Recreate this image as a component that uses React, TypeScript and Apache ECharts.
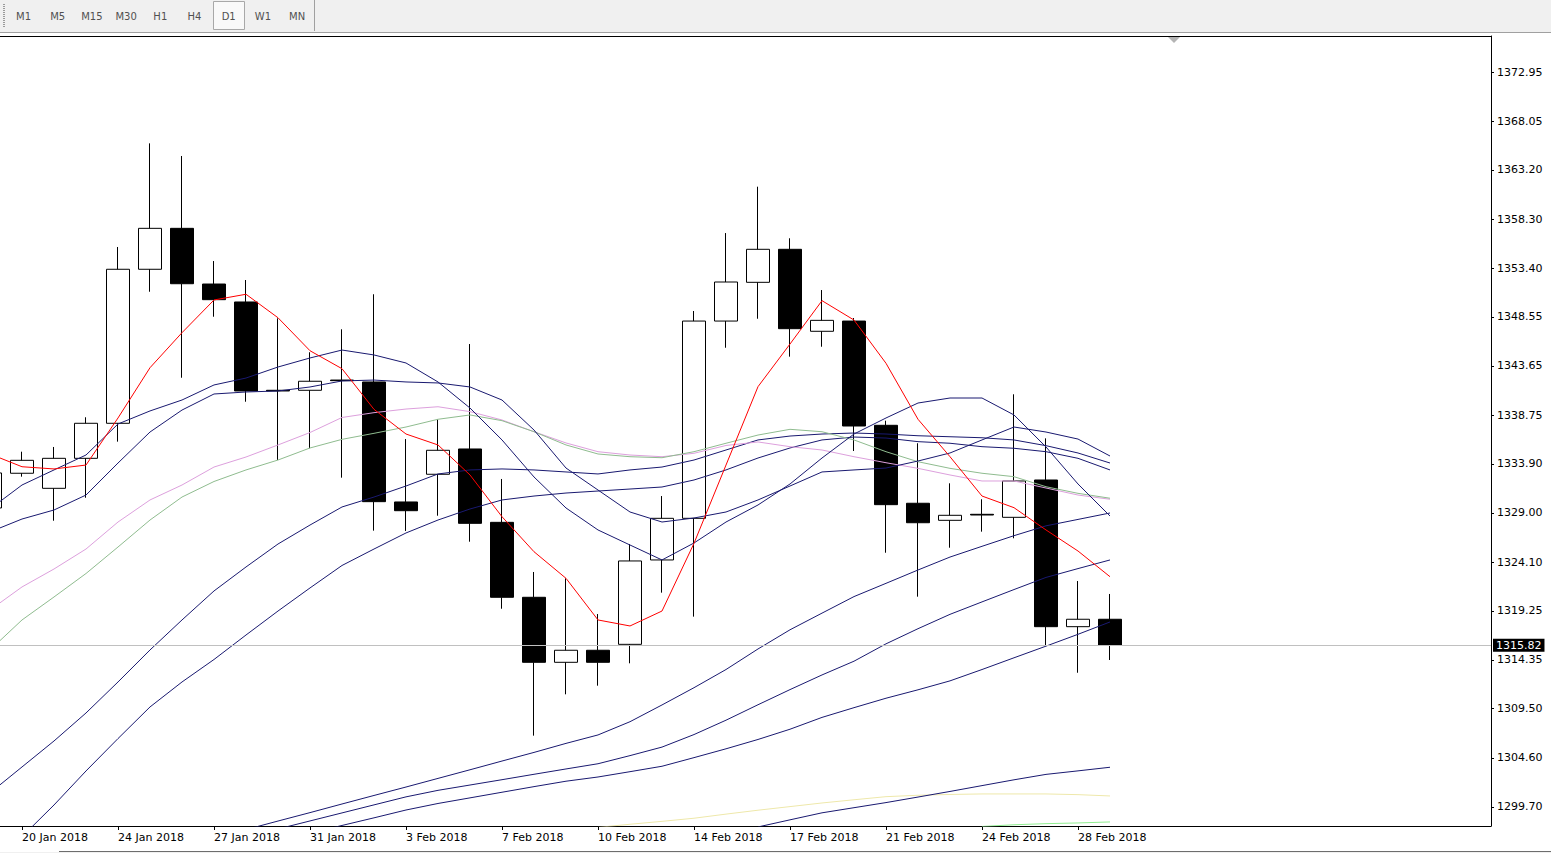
import React, { useEffect, useRef } from "react";
import * as echarts from "echarts";

// ---------- toolbar ----------
const timeframes = ["M1", "M5", "M15", "M30", "H1", "H4", "D1", "W1", "MN"];
const activeTimeframe = "D1";

// ---------- axes ----------
const dateTickIndex = [1, 4, 7, 10, 13, 16, 19, 22, 25, 28, 31, 34];
const dateLabels = [
  "20 Jan 2018", "24 Jan 2018", "27 Jan 2018", "31 Jan 2018", "3 Feb 2018", "7 Feb 2018",
  "10 Feb 2018", "14 Feb 2018", "17 Feb 2018", "21 Feb 2018", "24 Feb 2018", "28 Feb 2018",
];
const priceLabels = [
  "1372.95", "1368.05", "1363.20", "1358.30", "1353.40", "1348.55", "1343.65", "1338.75",
  "1333.90", "1329.00", "1324.10", "1319.25", "1314.35", "1309.50", "1304.60", "1299.70",
];
const bidPrice = 1315.82;

// ---------- candles (index 0 is the partly hidden one at the left edge) ----------
const opens = [1329.50, 1332.96, 1331.46, 1334.45, 1337.94, 1353.29, 1357.37, 1351.82, 1350.03, 1341.23, 1341.23, 1342.25, 1342.06, 1330.10, 1332.86, 1335.38, 1328.07, 1320.60, 1314.12, 1315.32, 1315.91, 1324.32, 1328.47, 1348.13, 1351.99, 1355.28, 1347.11, 1348.13, 1337.74, 1329.97, 1328.27, 1328.87, 1328.57, 1332.29, 1317.67, 1318.41];
const closes = [1332.99, 1334.25, 1334.45, 1337.94, 1353.29, 1357.37, 1351.85, 1350.26, 1341.16, 1341.16, 1342.13, 1342.19, 1330.13, 1329.23, 1335.25, 1327.97, 1320.60, 1314.12, 1315.32, 1314.12, 1324.22, 1328.47, 1348.13, 1352.02, 1355.28, 1347.37, 1348.20, 1337.67, 1329.83, 1328.03, 1328.77, 1328.80, 1332.19, 1317.67, 1318.41, 1315.82];
const lows = [1328.80, 1332.62, 1328.23, 1330.52, 1336.11, 1351.05, 1342.48, 1348.56, 1340.09, 1334.28, 1335.45, 1332.52, 1327.24, 1327.21, 1328.73, 1326.14, 1319.46, 1306.81, 1310.93, 1311.79, 1314.02, 1321.06, 1318.67, 1345.47, 1348.36, 1344.58, 1345.57, 1335.18, 1325.04, 1320.66, 1325.54, 1327.14, 1326.48, 1315.75, 1313.08, 1314.35];
const highs = [1333.78, 1335.11, 1335.58, 1338.54, 1355.51, 1365.84, 1364.58, 1354.11, 1352.22, 1348.40, 1345.02, 1347.31, 1350.80, 1336.37, 1338.34, 1345.84, 1332.39, 1323.12, 1322.49, 1318.93, 1325.91, 1330.69, 1349.13, 1356.90, 1361.52, 1356.38, 1351.22, 1348.43, 1338.20, 1335.95, 1331.96, 1330.37, 1340.83, 1336.44, 1322.22, 1320.93];

// ---------- moving averages (null = below the visible range) ----------
const _ = null;
const maRed = [1334.88, 1333.61, 1333.39, 1333.78, 1338.47, 1343.48, 1346.97, 1350.23, 1350.80, 1348.46, 1345.17, 1343.38, 1339.33, 1336.87, 1335.78, 1332.79, 1328.63, 1325.14, 1322.49, 1318.34, 1317.74, 1319.23, 1325.98, 1333.78, 1341.59, 1345.84, 1350.16, 1348.23, 1343.92, 1338.34, 1334.61, 1330.69, 1329.53, 1327.31, 1325.21, 1322.65];
const maNavyFast = [1329.40, 1331.79, 1333.29, 1334.78, 1337.87, 1339.17, 1340.26, 1341.76, 1342.45, 1343.55, 1344.45, 1345.24, 1344.75, 1343.95, 1342.06, 1339.46, 1336.28, 1332.59, 1329.50, 1327.31, 1325.81, 1324.32, 1326.01, 1328.10, 1329.80, 1331.89, 1334.48, 1336.87, 1338.47, 1339.96, 1340.46, 1340.46, 1338.77, 1335.58, 1331.89, 1328.70];
const maNavySlow = [1327.11, 1328.40, 1329.30, 1330.79, 1333.98, 1337.07, 1339.26, 1340.86, 1341.06, 1341.16, 1341.56, 1342.16, 1342.25, 1342.06, 1341.96, 1341.56, 1340.26, 1337.27, 1333.48, 1331.29, 1329.10, 1328.10, 1328.50, 1329.10, 1330.30, 1331.69, 1333.09, 1333.29, 1333.48, 1334.18, 1334.98, 1336.28, 1337.57, 1337.07, 1336.37, 1334.68];
const maNavyA = [1301.10, 1303.69, 1306.28, 1309.07, 1312.16, 1315.35, 1318.34, 1321.23, 1323.62, 1325.91, 1327.80, 1329.60, 1330.59, 1331.69, 1332.89, 1333.29, 1333.39, 1333.29, 1333.09, 1332.89, 1333.29, 1333.58, 1334.28, 1335.28, 1336.28, 1336.67, 1336.87, 1336.97, 1336.87, 1336.70, 1336.60, 1336.50, 1336.28, 1335.71, 1334.98, 1333.98];
const maNavyB = [_, 1296.74, 1299.90, 1303.29, 1306.52, 1309.67, 1312.16, 1314.40, 1316.84, 1319.23, 1321.53, 1323.77, 1325.41, 1327.01, 1328.30, 1329.40, 1330.30, 1330.69, 1330.99, 1331.19, 1331.39, 1331.59, 1332.29, 1333.29, 1334.48, 1335.48, 1336.28, 1336.57, 1336.47, 1336.11, 1335.95, 1335.61, 1335.45, 1335.11, 1334.45, 1333.29];
const maNavyC = [_, _, _, _, _, _, _, _, 1297.45, 1298.30, 1299.14, 1300.00, 1300.85, 1301.69, 1302.55, 1303.41, 1304.28, 1305.14, 1306.04, 1306.88, 1308.20, 1309.87, 1311.59, 1313.40, 1315.45, 1317.36, 1319.02, 1320.67, 1321.99, 1323.32, 1324.61, 1325.68, 1326.74, 1327.72, 1328.36, 1329.00];
const maNavyD = [_, _, _, _, _, _, _, _, _, 1297.51, 1298.31, 1299.11, 1299.91, 1300.71, 1301.36, 1301.89, 1302.42, 1302.96, 1303.49, 1304.01, 1304.82, 1305.67, 1306.92, 1308.35, 1309.89, 1311.40, 1312.86, 1314.23, 1315.96, 1317.47, 1318.90, 1320.14, 1321.37, 1322.58, 1323.46, 1324.32];
const maNavyE = [_, _, _, _, _, _, _, _, _, _, 1297.09, 1297.86, 1298.62, 1299.40, 1300.05, 1300.61, 1301.17, 1301.73, 1302.27, 1302.69, 1303.22, 1303.76, 1304.62, 1305.50, 1306.43, 1307.45, 1308.63, 1309.60, 1310.54, 1311.38, 1312.27, 1313.40, 1314.57, 1315.73, 1316.91, 1318.14];
const maNavyF = [_, _, _, _, _, _, _, _, _, _, _, _, _, _, _, _, _, _, _, _, _, _, _, _, 1297.71, 1298.42, 1299.12, 1299.63, 1300.14, 1300.69, 1301.25, 1301.83, 1302.41, 1302.95, 1303.30, 1303.66];
const maPlum = [1319.33, 1321.63, 1323.42, 1325.41, 1328.10, 1330.30, 1331.79, 1333.58, 1334.58, 1335.78, 1337.02, 1338.52, 1339.00, 1339.36, 1339.59, 1339.10, 1338.27, 1337.10, 1335.98, 1335.11, 1334.78, 1334.61, 1334.95, 1335.73, 1336.08, 1335.61, 1335.28, 1334.61, 1334.01, 1333.45, 1332.79, 1332.19, 1332.19, 1331.49, 1330.79, 1330.37];
const maSeaGreen = [1315.35, 1318.34, 1320.63, 1322.97, 1325.61, 1328.30, 1330.59, 1332.14, 1333.29, 1334.28, 1335.48, 1336.34, 1336.94, 1337.57, 1338.34, 1338.77, 1338.20, 1337.10, 1335.78, 1334.88, 1334.61, 1334.51, 1335.11, 1335.95, 1336.77, 1337.34, 1337.10, 1336.28, 1335.11, 1334.11, 1333.45, 1332.96, 1332.62, 1331.62, 1330.96, 1330.47];
const maKhaki = [_, _, _, _, _, _, _, _, _, _, _, _, _, _, _, _, _, _, _, 1297.67, 1297.98, 1298.27, 1298.58, 1298.99, 1299.38, 1299.74, 1300.10, 1300.42, 1300.73, 1300.87, 1300.95, 1301.00, 1301.00, 1301.00, 1300.93, 1300.80];
const maLightGreen = [_, _, _, _, _, _, _, _, _, _, _, _, _, _, _, _, _, _, _, _, _, _, _, _, _, _, _, _, _, _, _, 1297.76, 1297.93, 1298.04, 1298.11, 1298.21];

const NAVY = "#191970";
const FONT = "DejaVu Sans";

export default function App() {
  const ref = useRef<HTMLDivElement | null>(null);

  useEffect(() => {
    const el = ref.current;
    if (!el) return;
    const chart = echarts.init(el, null, { renderer: "svg" });

    const candles = opens.map((o, i) => [i, o, closes[i], lows[i], highs[i]]);
    const toPoints = (arr: (number | null)[]) =>
      arr.map((v, i) => (v == null ? null : [i, v])).filter((p) => p !== null);

    const lineDefs: { data: (number | null)[]; color: string }[] = [
      { data: maKhaki, color: "#eee8aa" },
      { data: maLightGreen, color: "#90ee90" },
      { data: maNavyF, color: NAVY },
      { data: maNavyE, color: NAVY },
      { data: maNavyD, color: NAVY },
      { data: maNavyC, color: NAVY },
      { data: maNavyB, color: NAVY },
      { data: maNavyA, color: NAVY },
      { data: maPlum, color: "#dda0dd" },
      { data: maSeaGreen, color: "#8fbc8f" },
      { data: maNavySlow, color: NAVY },
      { data: maNavyFast, color: NAVY },
      { data: maRed, color: "#ff0000" },
    ];

    const lineSeries = lineDefs.map((d, k) => ({
      type: "line",
      data: toPoints(d.data),
      showSymbol: false,
      symbol: "none",
      silent: true,
      clip: true,
      z: 3 + k * 0.01,
      lineStyle: { color: d.color, width: 1 },
      emphasis: { disabled: true },
    }));

    const priceTicks = priceLabels.map(Number);

    const tfGraphics: any[] = [];
    timeframes.forEach((tf, i) => {
      const cx = 23.5 + i * 34.2;
      if (tf === activeTimeframe) {
        tfGraphics.push({
          type: "rect",
          shape: { x: 213.5, y: 1.5, width: 31, height: 28 },
          style: { fill: "#f9f9f9", stroke: "#a8a8a8", lineWidth: 1 },
          silent: true,
        });
      }
      tfGraphics.push({
        type: "text",
        x: cx,
        y: 16,
        style: {
          text: tf,
          fill: "#505050",
          font: "10px 'DejaVu Sans'",
          textAlign: "center",
          textVerticalAlign: "middle",
        },
        silent: true,
      });
    });

    chart.setOption({
      animation: false,
      backgroundColor: "#ffffff",
      grid: {
        left: -26,
        right: 60,
        top: 36,
        bottom: 27,
        containLabel: false,
        outerBoundsMode: "none",
      },
      xAxis: {
        type: "value",
        min: -0.5,
        max: 46.90625,
        position: "bottom",
        splitLine: { show: false },
        axisLine: { show: true, onZero: false, lineStyle: { color: "#000", width: 1 } },
        axisTick: {
          show: true,
          customValues: dateTickIndex,
          length: 4,
          lineStyle: { color: "#000", width: 1 },
        },
        axisLabel: {
          show: true,
          customValues: dateTickIndex,
          formatter: (v: number) => {
            const k = dateTickIndex.indexOf(Math.round(v));
            return k >= 0 ? dateLabels[k] : "";
          },
          color: "#000",
          fontFamily: FONT,
          fontSize: 11,
          align: "left",
          margin: 6,
        },
      },
      yAxis: {
        type: "value",
        position: "right",
        min: 1297.806,
        max: 1376.538,
        splitLine: { show: false },
        axisLine: { show: true, onZero: false, lineStyle: { color: "#000", width: 1 } },
        axisTick: {
          show: true,
          customValues: priceTicks,
          length: 3,
          lineStyle: { color: "#000", width: 1 },
        },
        axisLabel: {
          show: true,
          customValues: priceTicks,
          formatter: (v: number) => v.toFixed(2),
          color: "#000",
          fontFamily: FONT,
          fontSize: 11,
          margin: 6,
        },
      },
      series: [
        {
          type: "candlestick",
          data: candles,
          barWidth: 24,
          silent: true,
          clip: true,
          z: 2,
          itemStyle: {
            color: "#ffffff",
            color0: "#000000",
            borderColor: "#000000",
            borderColor0: "#000000",
            borderWidth: 1,
          },
          emphasis: { disabled: true },
          markLine: {
            silent: true,
            symbol: ["none", "none"],
            animation: false,
            lineStyle: { color: "#c0c0c0", type: "solid", width: 1 },
            label: {
              show: true,
              position: "end",
              distance: 2,
              formatter: bidPrice.toFixed(2),
              color: "#ffffff",
              backgroundColor: "#000000",
              padding: [1, 3, 1, 3],
              fontFamily: FONT,
              fontSize: 11,
            },
            data: [{ yAxis: bidPrice }],
          },
        },
        ...lineSeries,
      ],
      graphic: [
        {
          type: "rect",
          shape: { x: 0, y: 0, width: 1551, height: 32 },
          style: { fill: "#f0f0f0" },
          silent: true,
        },
        {
          type: "line",
          shape: { x1: 0, y1: 32.5, x2: 1551, y2: 32.5 },
          style: { stroke: "#a0a0a0", lineWidth: 1 },
          silent: true,
        },
        {
          type: "line",
          shape: { x1: 4, y1: 4, x2: 4, y2: 28 },
          style: { stroke: "#9a9a9a", lineWidth: 2, lineDash: [1, 1] },
          silent: true,
        },
        {
          type: "line",
          shape: { x1: 314.5, y1: 0, x2: 314.5, y2: 31 },
          style: { stroke: "#a0a0a0", lineWidth: 1 },
          silent: true,
        },
        ...tfGraphics,
        {
          type: "line",
          shape: { x1: 0, y1: 36.5, x2: 1491.5, y2: 36.5 },
          style: { stroke: "#000000", lineWidth: 1 },
          silent: true,
        },
        {
          type: "polygon",
          shape: { points: [[1168, 37], [1180, 37], [1174, 43]] },
          style: { fill: "#b4b4b4" },
          silent: true,
        },
        {
          type: "rect",
          shape: { x: 0, y: 852, width: 1551, height: 1 },
          style: { fill: "#f0f0f0" },
          silent: true,
        },
        {
          type: "line",
          shape: { x1: 59, y1: 851.5, x2: 1551, y2: 851.5 },
          style: { stroke: "#6d6d6d", lineWidth: 1 },
          silent: true,
        },
      ],
    });

    return () => {
      chart.dispose();
    };
  }, []);

  return (
    <div
      ref={ref}
      style={{ position: "fixed", left: 0, top: 0, width: 1551, height: 853, background: "#ffffff" }}
    />
  );
}
